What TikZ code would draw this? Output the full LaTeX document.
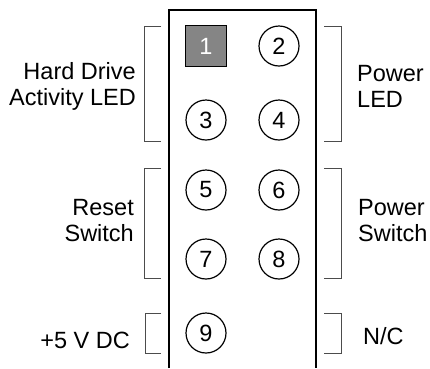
\documentclass[tikz,border=0pt]{standalone}
\usepackage{fontspec}
\setmainfont{Liberation Sans}
\tikzset{
  pin/.style={draw,circle,line width=1.2pt,minimum size=40pt,inner sep=0pt},
  keypin/.style={draw,line width=1.2pt,fill=black!48,text=white,minimum size=41pt,inner sep=0pt},
  bracket/.style={draw=black!70,line width=0.9pt},
  label/.style={inner sep=0pt,align=center}
}
\begin{document}
\begin{tikzpicture}[x=1pt,y=-1pt,font=\fontsize{23.5}{26}\selectfont]
  \useasboundingbox (0,0) rectangle (430,368);
  % header housing
  \draw[line width=1.6pt] (169,368) -- (169,10) -- (316,10) -- (316,368);
  % pins
  \node[keypin] (p1) at (206,46) {1};
  \node[pin] (p2) at (279,46) {2};
  \node[pin] (p3) at (206,120) {3};
  \node[pin] (p4) at (279,120) {4};
  \node[pin] (p5) at (206,190) {5};
  \node[pin] (p6) at (279,190) {6};
  \node[pin] (p7) at (206,259) {7};
  \node[pin] (p8) at (279,259) {8};
  \node[pin] (p9) at (206,333) {9};
  % brackets left
  \draw[bracket] (161,26) -- (144,26) -- (144,141) -- (161,141);
  \draw[bracket] (161,168) -- (144,168) -- (144,278) -- (161,278);
  \draw[bracket] (161,313) -- (145,313) -- (145,353) -- (161,353);
  % brackets right
  \draw[bracket] (324,26) -- (341,26) -- (341,141) -- (324,141);
  \draw[bracket] (324,168) -- (341,168) -- (341,278) -- (324,278);
  \draw[bracket] (324,313) -- (341,313) -- (341,353) -- (324,353);
  % labels
  \node[label,anchor=east,align=right] (hdd) at (136,86) {Hard Drive\\Activity LED};
  \node[label,anchor=east,align=right] (rst) at (134,221) {Reset\\Switch};
  \node[label,anchor=east] (vcc) at (130,340) {+5 V DC};
  \node[label,anchor=west,align=left] (pled) at (357,86) {Power\\LED};
  \node[label,anchor=west,align=left] (psw) at (358,221) {Power\\Switch};
  \node[label,anchor=west] (nc) at (363,336) {N/C};
\end{tikzpicture}
\end{document}
